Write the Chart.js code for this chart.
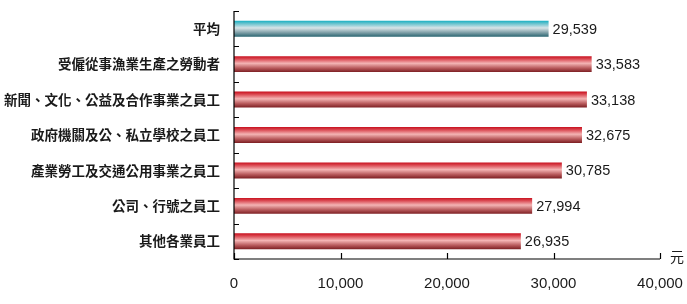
<!DOCTYPE html>
<html>
<head>
<meta charset="utf-8">
<script src="https://cdn.jsdelivr.net/npm/chart.js@4.4.1/dist/chart.umd.min.js"></script>
<style>
  html, body { margin: 0; padding: 0; background: #fff; }
  #wrap { width: 687px; height: 304px; position: relative; }
</style>
</head>
<body>
<div id="wrap"><canvas id="salaryChart"></canvas></div>
<script>
// 類別 (上到下)
const categories = [
    '平均',
    '受僱從事漁業生產之勞動者',
    '新聞、文化、公益及合作事業之員工',
    '政府機關及公、私立學校之員工',
    '產業勞工及交通公用事業之員工',
    '公司、行號之員工',
    '其他各業員工'
];
// 金額 (元)
const salaryValues = [29539, 33583, 33138, 32675, 30785, 27994, 26935];
const xTicks = [0, 10000, 20000, 30000, 40000];
const unitLabel = '元';

const CJK_FONT = '"Noto Sans CJK TC", "Noto Sans CJK SC", sans-serif';
const NUM_FONT = '"Liberation Sans", Arial, sans-serif';
const BAR_PCT = 0.45;

// 막대 그라데이션 (세로)
function barGradient(ctx, top, bottom, isAverage) {
    const g = ctx.createLinearGradient(0, top, 0, bottom);
    if (isAverage) {
        g.addColorStop(0, '#16b0c4');
        g.addColorStop(0.15, '#5cbfcb');
        g.addColorStop(0.45, '#d8e4e8');
        g.addColorStop(0.75, '#7d9ea6');
        g.addColorStop(1, '#2a6672');
    } else {
        g.addColorStop(0, '#c8101e');
        g.addColorStop(0.15, '#d8404a');
        g.addColorStop(0.45, '#f4b4b4');
        g.addColorStop(0.75, '#b85a5c');
        g.addColorStop(1, '#7c1e22');
    }
    return g;
}

function scriptedBarColor(context) {
    const chart = context.chart;
    const ys = chart.scales.y;
    if (!ys || !chart.chartArea) return '#c8101e';
    const center = ys.getPixelForValue(context.dataIndex);
    const half = (ys.height / categories.length) * BAR_PCT / 2;
    return barGradient(chart.ctx, center - half, center + half, context.dataIndex === 0);
}

const valueLabelPlugin = {
    id: 'valueLabels',
    afterDatasetsDraw(chart) {
        const ctx = chart.ctx;
        const meta = chart.getDatasetMeta(0);
        ctx.save();
        ctx.font = '14.5px ' + NUM_FONT;
        ctx.fillStyle = '#1a1a1a';
        ctx.textAlign = 'left';
        ctx.textBaseline = 'middle';
        meta.data.forEach((bar, i) => {
            const txt = salaryValues[i].toLocaleString('en-US');
            ctx.fillText(txt, bar.x + 4, bar.y + 1);
        });
        ctx.restore();
    }
};

// 축선 + 안쪽 눈금
const axisPlugin = {
    id: 'axesInward',
    afterDraw(chart) {
        const ctx = chart.ctx;
        const xs = chart.scales.x;
        const ys = chart.scales.y;
        const a = chart.chartArea;
        ctx.save();
        ctx.strokeStyle = '#000';
        ctx.lineWidth = 1.2;
        ctx.beginPath();
        ctx.moveTo(a.left, a.top);
        ctx.lineTo(a.left, a.bottom);
        ctx.lineTo(a.right, a.bottom);
        ctx.stroke();
        // x ticks (위로)
        ctx.beginPath();
        xTicks.forEach(v => {
            const px = Math.round(xs.getPixelForValue(v)) + 0.5;
            ctx.moveTo(px, a.bottom);
            ctx.lineTo(px, a.bottom - 6);
        });
        // y ticks (카테고리 경계, 오른쪽으로)
        for (let i = 0; i <= categories.length; i++) {
            const py = Math.round(ys.getPixelForValue(i - 0.5)) + 0.5;
            ctx.moveTo(a.left, py);
            ctx.lineTo(a.left + 5, py);
        }
        ctx.stroke();
        // 단위
        ctx.font = '14px ' + CJK_FONT;
        ctx.fillStyle = '#1a1a1a';
        ctx.textAlign = 'left';
        ctx.textBaseline = 'middle';
        ctx.fillText(unitLabel, a.right + 10, a.bottom - 2);
        ctx.restore();
    }
};

function initSalaryChart() {
    const ctx = document.getElementById('salaryChart');
    new Chart(ctx, {
        type: 'bar',
        data: {
            labels: categories,
            datasets: [{
                data: salaryValues,
                backgroundColor: scriptedBarColor,
                borderWidth: 0,
                categoryPercentage: 1,
                barPercentage: BAR_PCT
            }]
        },
        options: {
            indexAxis: 'y',
            responsive: true,
            maintainAspectRatio: false,
            animation: false,
            layout: { padding: { top: 11, right: 27, bottom: 0, left: 0 } },
            plugins: {
                legend: { display: false },
                tooltip: { enabled: false }
            },
            scales: {
                x: {
                    min: 0,
                    max: 40000,
                    afterBuildTicks(scale) {
                        scale.ticks = xTicks.map(v => ({ value: v }));
                    },
                    grid: { display: false, drawTicks: false },
                    border: { display: false },
                    ticks: {
                        padding: 16,
                        color: '#1a1a1a',
                        font: { family: NUM_FONT, size: 15 },
                        maxRotation: 0,
                        callback: v => v.toLocaleString('en-US')
                    },
                    afterFit(scale) {
                        scale.height = 45;
                        scale.paddingRight = 0;
                        scale.paddingLeft = 0;
                    }
                },
                y: {
                    grid: { display: false, drawTicks: false },
                    border: { display: false },
                    ticks: {
                        padding: 14,
                        color: '#1a1a1a',
                        font: { family: CJK_FONT, size: 13.5, weight: 'bold' }
                    },
                    afterFit(scale) {
                        scale.width = 234;
                        scale.paddingTop = 0;
                    }
                }
            }
        },
        plugins: [valueLabelPlugin, axisPlugin]
    });
}

initSalaryChart();
</script>
</body>
</html>
